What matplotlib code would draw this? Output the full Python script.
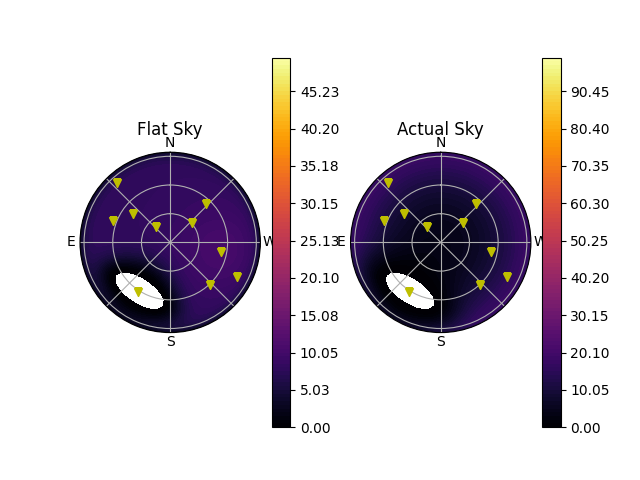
import numpy as np
import matplotlib
matplotlib.use('Agg')
import matplotlib.pyplot as plt

# Targets: azimuth (from N through E) and zenith angle, degrees
star_az = [41.8, 52.7, 69.4, 43.0, 310.8, 317.1, 258.8, 242.2, 222.9, 147.6]
star_zen = [79.1, 46.2, 60.6, 20.5, 29.1, 51.9, 51.3, 75.0, 57.7, 59.2]

# Moon position and the half-sizes of the blanked patch around it (deg)
moon_az, moon_zen = 147.6, 57.3
mask_tan, mask_rad = 27.6, 12.6

# Sky model settings
flat_level, flat_spot, flat_spot_az, flat_spot_zen = 8.0, 2.5, 262.0, 50.0
flat_rim, flat_halo = 5.0, 20.0
act_center, act_edge, act_halo = 4.0, 20.0, 28.0

# Colour bar ranges and labels
flat_vmax = 49.76
act_vmax = 99.52
flat_ticks = ['0.00', '5.03', '10.05', '15.08', '20.10', '25.13', '30.15', '35.18', '40.20', '45.23']
act_ticks = ['0.00', '10.05', '20.10', '30.15', '40.20', '50.25', '60.30', '70.35', '80.40', '90.45']

dir_labels = ['N', '', 'E', '', 'S', '', 'W', '']


# Grid over the sky
az = np.radians(np.linspace(0, 360, 361))
zen = np.linspace(0, 90, 181)
AZ, ZEN = np.meshgrid(az, zen)

# Plane coordinates (roughly 1 deg per unit) for distances on the chart
X = ZEN * np.sin(AZ)
Y = ZEN * np.cos(AZ)
maz = np.radians(moon_az)
mx, my = moon_zen * np.sin(maz), moon_zen * np.cos(maz)
dx, dy = X - mx, Y - my
rad_off = dx * np.sin(maz) + dy * np.cos(maz)
tan_off = dx * np.cos(maz) - dy * np.sin(maz)
d_e = np.sqrt((tan_off / mask_tan) ** 2 + (rad_off / mask_rad) ** 2)
dist = np.hypot(dx, dy)
edge_dist = np.where(d_e > 1, dist * (1 - 1 / np.maximum(d_e, 1e-6)), 0)
moon_mask = d_e <= 1

# Flat sky
sx = flat_spot_zen * np.sin(np.radians(flat_spot_az))
sy = flat_spot_zen * np.cos(np.radians(flat_spot_az))
spot = flat_spot * np.exp(-((X - sx) ** 2 + (Y - sy) ** 2) / (2 * 30.0 ** 2))
rim = 1 - 0.7 * np.exp(-(90 - ZEN) / flat_rim)
flat = (flat_level + spot) * rim * (1 - np.exp(-(edge_dist / flat_halo) ** 2))
flat = np.ma.masked_where(moon_mask, flat)

# Actual sky
act = (act_center + (act_edge - act_center) * (ZEN / 90) ** 2)
act = act * (1 - 0.3 * np.exp(-(90 - ZEN) / 3.0))
act = act * (1 - np.exp(-(edge_dist / act_halo) ** 2))
act = np.ma.masked_where(moon_mask, act)

fig, axes = plt.subplots(1, 2, subplot_kw={'projection': 'polar'})

panels = [(axes[0], flat, flat_vmax, flat_ticks, 'Flat Sky'),
          (axes[1], act, act_vmax, act_ticks, 'Actual Sky')]

for ax, vals, vmax, ticks, title in panels:
    levels = np.linspace(0, vmax, 100)
    cf = ax.contourf(AZ, np.radians(ZEN), vals, levels=levels, cmap='inferno')
    ax.plot(np.radians(star_az), np.radians(star_zen), 'yv')
    ax.set_theta_zero_location('N')
    ax.set_xticks(np.radians(np.arange(0, 360, 45)))
    ax.set_xticklabels(dir_labels)
    ax.tick_params(axis='x', pad=-3.7)
    ax.set_ylim(0, np.pi / 2)
    ax.set_yticks([0.5, 1.0, 1.5])
    ax.set_yticklabels([])
    ax.set_title(title, y=1.095, pad=0)
    cb = fig.colorbar(cf, ax=ax, ticks=[float(t) for t in ticks])
    cb.ax.set_yticklabels(ticks)

fig.savefig('out.png')
